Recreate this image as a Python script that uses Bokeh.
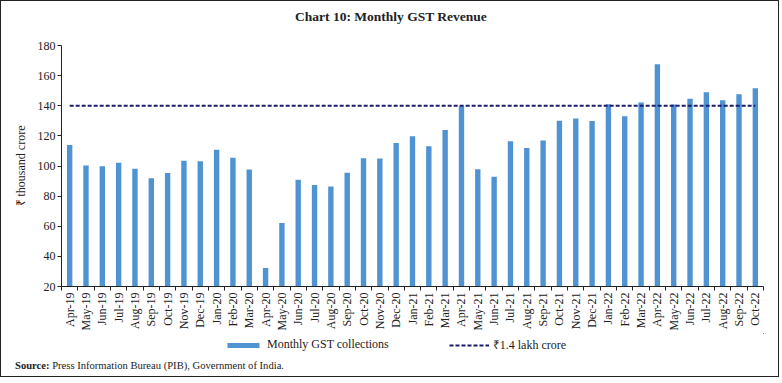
import numpy as np
from bokeh.plotting import figure
from bokeh.layouts import column
from bokeh.models import (FixedTicker, CustomJSTickFormatter, Legend, LegendItem, Div)
from bokeh.embed import file_html
from bokeh.resources import INLINE

months = ["Apr-19","May-19","Jun-19","Jul-19","Aug-19","Sep-19","Oct-19","Nov-19","Dec-19",
          "Jan-20","Feb-20","Mar-20","Apr-20","May-20","Jun-20","Jul-20","Aug-20","Sep-20",
          "Oct-20","Nov-20","Dec-20","Jan-21","Feb-21","Mar-21","Apr-21","May-21","Jun-21",
          "Jul-21","Aug-21","Sep-21","Oct-21","Nov-21","Dec-21","Jan-22","Feb-22","Mar-22",
          "Apr-22","May-22","Jun-22","Jul-22","Aug-22","Sep-22","Oct-22"]
gst = [113.9, 100.3, 99.9, 102.1, 98.2, 91.9, 95.4, 103.5, 103.2,
       110.8, 105.4, 97.6, 32.2, 62.2, 90.9, 87.4, 86.4, 95.5,
       105.2, 105.0, 115.2, 119.8, 113.1, 123.9, 139.7, 97.8, 92.8,
       116.4, 112.0, 117.0, 130.1, 131.5, 129.8, 141.0, 133.0, 142.1,
       167.5, 140.9, 144.6, 149.0, 143.6, 147.7, 151.7]
threshold = 140
y_ticks = [20, 40, 60, 80, 100, 120, 140, 160, 180]

n = len(months)
xc = [i + 0.5 for i in range(n)]
bounds = list(range(n + 1))

FONT = "Liberation Serif"
TXT = "#222222"
BAR = "#4f93d2"
LINE = "#1c1c6b"
W = 777

title = Div(text="Chart 10: Monthly GST Revenue", width=W, height=30, margin=0,
            styles={"font-family": FONT, "font-size": "13.5px", "font-weight": "bold",
                    "color": TXT, "text-align": "center", "line-height": "20px",
                    "padding-top": "6px", "padding-left": "3px", "box-sizing": "border-box",
                    "width": f"{W}px"})

p = figure(width=W, height=302, x_range=(0, n), y_range=(y_ticks[0], y_ticks[-1]),
           output_backend="svg", toolbar_location=None,
           min_border_left=60, min_border_right=15, min_border_top=14, min_border_bottom=46)
p.outline_line_color = None
p.xgrid.visible = False
p.ygrid.visible = False

p.vbar(x=xc, top=gst, bottom=y_ticks[0], width=0.33, fill_color=BAR, line_color=None)
p.line(x=[xc[0], xc[-1]], y=[threshold, threshold], line_color=LINE,
       line_width=2, line_dash="4 2")

# axes
xa = p.xaxis[0]
xa.ticker = FixedTicker(ticks=xc, minor_ticks=bounds)
xa.formatter = CustomJSTickFormatter(args=dict(labels=months),
    code="const i = Math.floor(tick); return (i >= 0 && i < labels.length) ? labels[i] : '';")
xa.major_tick_out = 0
xa.major_tick_in = 0
xa.minor_tick_out = 4
xa.minor_tick_in = 0
xa.minor_tick_line_color = TXT
xa.major_label_orientation = np.pi / 2
xa.major_label_standoff = 2
xa.major_label_text_font = FONT
xa.major_label_text_font_size = "12px"
xa.major_label_text_color = TXT
xa.axis_line_color = TXT

ya = p.yaxis[0]
ya.ticker = FixedTicker(ticks=y_ticks)
ya.major_tick_out = 4
ya.major_tick_in = 0
ya.minor_tick_line_color = None
ya.major_label_text_font = FONT
ya.major_label_text_font_size = "12px"
ya.major_label_text_color = TXT
ya.major_label_standoff = 2
ya.axis_line_color = TXT
ya.major_tick_line_color = TXT
ya.axis_label = "₹ thousand crore"
ya.axis_label_text_font = FONT
ya.axis_label_text_font_size = "12px"
ya.axis_label_text_font_style = "normal"
ya.axis_label_text_color = TXT
ya.axis_label_standoff = 7

# legend strip (its own renderers sit outside its ranges, only the legend shows)
lf = figure(width=W, height=25, output_backend="svg", toolbar_location=None,
            x_axis_type=None, y_axis_type=None, x_range=(-20, -10), y_range=(-20, -10),
            min_border=0)
lf.outline_line_color = None
lf.xgrid.visible = False
lf.ygrid.visible = False
lb = lf.vbar(x=xc, top=gst, width=0.33, fill_color=BAR, line_color=None)
ll = lf.line(x=[xc[0], xc[-1]], y=[threshold, threshold], line_color=LINE,
             line_width=2, line_dash="4 2")
legend = Legend(items=[LegendItem(label="Monthly GST collections", renderers=[lb]),
                       LegendItem(label="₹1.4 lakh crore", renderers=[ll])],
                orientation="horizontal", location=(162, 5), glyph_width=40, glyph_height=6,
                label_height=14, label_standoff=4, spacing=60, padding=0, margin=0,
                border_line_color=None, background_fill_alpha=0,
                label_text_font=FONT, label_text_font_size="12px", label_text_color=TXT)
lf.add_layout(legend, "center")

src = Div(text="<b>Source:</b> Press Information Bureau (PIB), Government of India.",
          width=W, height=18, margin=0,
          styles={"font-family": FONT, "font-size": "10.6px", "color": TXT,
                  "padding-left": "14px", "padding-top": "1px", "line-height": "14px",
                  "box-sizing": "border-box"})

layout = column(title, p, lf, src, spacing=0, styles={"border": "1px solid #222222"})

open("out.html", "w").write(file_html(layout, INLINE))
